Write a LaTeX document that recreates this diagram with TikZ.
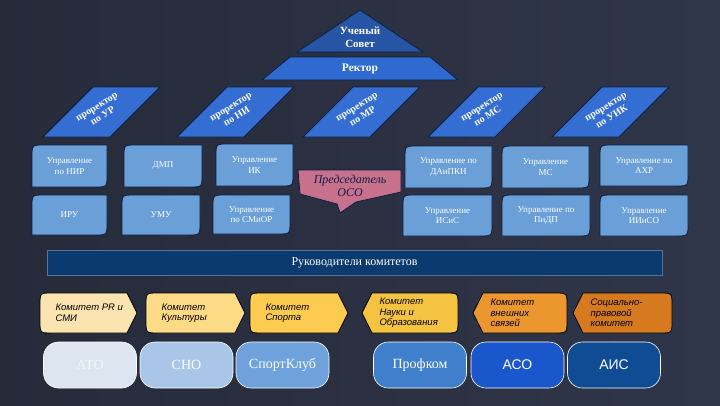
\documentclass[tikz,border=0pt]{standalone}
\usepackage{fontspec}
\setmainfont{Liberation Serif}
\setsansfont{Liberation Sans}

\definecolor{navy}{HTML}{0B1F44}
\definecolor{bgdark}{HTML}{262B3A}
\definecolor{bgmid}{HTML}{6C7896}
\definecolor{bgright}{HTML}{30364A}
\definecolor{sovet}{HTML}{2755A5}
\definecolor{rektor}{HTML}{2E6AD0}
\definecolor{problue}{HTML}{356ED2}
\definecolor{uprblue}{HTML}{6A9FD8}
\definecolor{pink}{HTML}{C8718C}
\definecolor{band}{HTML}{0B3A6E}
\definecolor{kom1}{HTML}{FCE4B0}
\definecolor{kom2}{HTML}{FDDB86}
\definecolor{kom3}{HTML}{FCCB50}
\definecolor{kom4}{HTML}{F5C342}
\definecolor{kom5}{HTML}{EB962F}
\definecolor{kom6}{HTML}{D57A1F}
\definecolor{org1}{HTML}{DCE5F0}
\definecolor{org1t}{HTML}{F4F7FB}
\definecolor{org2}{HTML}{A9C6E8}
\definecolor{org3}{HTML}{6FA2DC}
\definecolor{org4}{HTML}{3F7FCB}
\definecolor{org5}{HTML}{1A56CC}
\definecolor{org6}{HTML}{104C94}

\tikzset{
  upr/.style={draw=navy, line width=0.8pt, fill=uprblue},
  uprtext/.style={text=white, font=\fontsize{9}{10.5}\selectfont, align=center},
  prorect/.style={draw=navy, line width=0.8pt, fill=problue},
  protext/.style={text=white, font=\bfseries\fontsize{10}{11}\selectfont, align=center, rotate=32},
  kom/.style={draw=black, line width=0.8pt},
  komtext/.style={font=\sffamily\itshape\fontsize{9.5}{10.5}\selectfont, align=left, text=black, anchor=west},
  org/.style={draw=white, line width=0.6pt, rounded corners=15pt, minimum width=93pt,
    minimum height=46pt, text=white, font=\fontsize{14}{16}\selectfont},
}

% name, x1, y1, x2, y2, text
\newcommand\Upr[6]{%
  \draw[upr] (#2,#5) -- (#2,{#3+12}) .. controls (#2,#3) .. ({#2+12},#3) -- (#4,#3)
    -- (#4,{#5-12}) .. controls (#4,#5) .. ({#4-12},#5) -- cycle;
  \node[uprtext] (#1) at ({(#2+#4)/2},{(#3+#5)/2}) {#6};}
% name, left bottom x, text
\newcommand\Pro[3]{%
  \draw[prorect] (#2,137) -- ({#2+67},137) -- ({#2+117},87) -- ({#2+50},87) -- cycle;
  \node[protext] (#1) at ({#2+57},112) {#3};}
% name, x1, x2 (tip), colour, text
\newcommand\KomR[5]{%
  \draw[kom, fill=#4] ({#2+12},293) -- ({#3-10},293) -- (#3,313) -- ({#3-10},333)
    -- ({#2+12},333) .. controls (#2,333) .. (#2,321) -- (#2,305) .. controls (#2,293) .. cycle;
  \node[komtext] (#1) at ({#2+12},313) {#5};}
% name, x1 (tip), x2, colour, text
\newcommand\KomL[5]{%
  \draw[kom, fill=#4] ({#2+10},293) -- ({#3-12},293) .. controls (#3,293) .. (#3,305)
    -- (#3,321) .. controls (#3,333) .. ({#3-12},333) -- ({#2+10},333) -- (#2,313) -- cycle;
  \node[komtext] (#1) at ({#2+14},313) {#5};}

\begin{document}
\begin{tikzpicture}[x=1pt, y=-1pt]
\shade[left color=bgdark, middle color=bgmid, right color=bgright] (0,0) rectangle (720,405);
\useasboundingbox (0,0) rectangle (720,405);

% top
\draw[fill=sovet, draw=navy, line width=0.8pt] (360,10) -- (423,52) -- (297,52) -- cycle;
\node[text=white, font=\bfseries\fontsize{11}{13}\selectfont, align=center] (sovet) at (360,37) {Ученый\\Совет};
\draw[fill=rektor, draw=navy, line width=0.8pt] (290,57) -- (430,57) -- (458,80) -- (262,80) -- cycle;
\node[text=white, font=\bfseries\fontsize{11.5}{13}\selectfont] (rektor) at (360,69) {Ректор};

% prorectors
\Pro{pr1}{43}{проректор\\по УР}
\Pro{pr2}{177}{проректор\\по НИ}
\Pro{pr3}{303}{проректор\\по МР}
\Pro{pr4}{428}{проректор\\по МС}
\Pro{pr5}{552}{проректор\\по УИК}

% departments
\Upr{nir}{32}{145}{107}{187}{Управление\\по НИР}
\Upr{dmp}{124}{145}{202}{187}{ДМП}
\Upr{ik}{216}{144}{293}{186}{Управление\\ИК}
\Upr{iru}{32}{195}{107}{235}{ИРУ}
\Upr{umu}{122}{195}{200}{235}{УМУ}
\Upr{smior}{213}{195}{290}{234}{Управление\\по СМиОР}
\Upr{daipkn}{405}{146}{492}{188}{Управление по\\ДАиПКН}
\Upr{ms}{502}{146}{589}{188}{Управление\\МС}
\Upr{ahr}{600}{145}{688}{186}{Управление по\\АХР}
\Upr{isis}{403}{195}{492}{236}{Управление\\ИСиС}
\Upr{pidp}{502}{195}{590}{236}{Управление по\\ПиДП}
\Upr{iiiso}{600}{195}{688}{236}{Управление\\ИИиСО}

% chairman
\draw[fill=pink, draw=navy, line width=0.8pt] (298,170) -- (401,170) -- (401,192) -- (356,202)
  -- (340,213) -- (337,204) -- (300,194) -- cycle;
\node[text=navy, font=\itshape\fontsize{12}{13.5}\selectfont, align=center] (oso) at (350,186) {Председатель\\ОСО};

% committees
\node[fill=band, draw=band!70!white, minimum width=615pt, minimum height=25pt,
  text=white, font=\fontsize{12}{14}\selectfont] (heads) at (354.5,262.5) {Руководители комитетов};

\KomR{pr}{40}{137}{kom1}{Комитет PR и\\СМИ}
\KomR{kult}{146}{245}{kom2}{Комитет\\Культуры}
\KomR{sport}{250}{348}{kom3}{Комитет\\Спорта}
\KomL{nauka}{362}{458}{kom4}{Комитет\\Науки и\\Образования}
\KomL{svyaz}{473}{567}{kom5}{Комитет\\внешних\\связей}
\KomL{pravo}{573}{672}{kom6}{Социально-\\правовой\\комитет}

% organisations
\node[org, fill=org1, text=org1t] (ato) at (90,365) {АТО};
\node[org, fill=org2] (sno) at (186.5,365) {СНО};
\node[org, fill=org3] (club) at (282.5,365) {СпортКлуб};
\node[org, fill=org4] (prof) at (420,365) {Профком};
\node[org, fill=org5, font=\sffamily\fontsize{14}{16}\selectfont] (aso) at (517.5,365) {АСО};
\node[org, fill=org6, font=\sffamily\fontsize{14}{16}\selectfont] (ais) at (614,365) {АИС};
\end{tikzpicture}
\end{document}
